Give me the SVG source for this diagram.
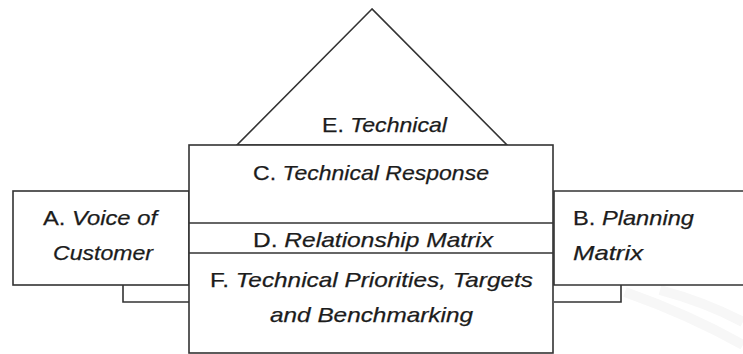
<svg xmlns="http://www.w3.org/2000/svg" width="743" height="354" viewBox="0 0 743 354">
  <style>
    .ln { fill: none; stroke: #333; stroke-width: 1.6; }
    .box { fill: #fff; stroke: #333; stroke-width: 1.6; }
    .lbl { font-family: "Liberation Sans", "Open Sans", sans-serif; font-size: 21px; fill: #1c1c1c; stroke: #1c1c1c; stroke-width: 0.25; }
    .it { font-style: italic; }
    .wm { fill: none; stroke: #f7f7f7; stroke-width: 10; }
  </style>
  <rect width="743" height="354" fill="#fff"/>

  <!-- faint background swooshes, lower right -->
  <path class="wm" d="M625,292 Q690,315 743,345"/>
  <path class="wm" d="M660,290 Q705,302 743,322"/>

  <!-- roof: technical correlations -->
  <g id="roof-E">
    <polygon class="box" points="372,9 237,145 507,145"/>
    <text class="lbl" x="322" y="132" textLength="125" lengthAdjust="spacingAndGlyphs">E. <tspan class="it">Technical</tspan></text>
  </g>

  <!-- left wing: voice of customer -->
  <g id="room-A">
    <rect class="box" x="13" y="191" width="176" height="94"/>
    <text class="lbl" x="43" y="225" textLength="114" lengthAdjust="spacingAndGlyphs">A. <tspan class="it">Voice of</tspan></text>
    <text class="lbl it" x="53" y="260" textLength="100" lengthAdjust="spacingAndGlyphs">Customer</text>
  </g>

  <!-- right wing: planning matrix -->
  <g id="room-B">
    <path class="box" d="M746,191 H554 V285 H746"/>
    <text class="lbl" x="573" y="225" textLength="121" lengthAdjust="spacingAndGlyphs">B. <tspan class="it">Planning</tspan></text>
    <text class="lbl it" x="573" y="260" textLength="70" lengthAdjust="spacingAndGlyphs">Matrix</text>
  </g>

  <!-- central body -->
  <g id="room-C">
    <rect class="box" x="189" y="145" width="364" height="208"/>
    <text class="lbl" x="253" y="180" textLength="236" lengthAdjust="spacingAndGlyphs">C. <tspan class="it">Technical Response</tspan></text>
  </g>

  <g id="room-D">
    <line class="ln" x1="189" y1="223" x2="553" y2="223"/>
    <text class="lbl" x="253" y="247" textLength="240" lengthAdjust="spacingAndGlyphs">D. <tspan class="it">Relationship Matrix</tspan></text>
  </g>

  <g id="room-F">
    <line class="ln" x1="189" y1="253" x2="553" y2="253"/>
    <text class="lbl" x="210" y="287" textLength="323" lengthAdjust="spacingAndGlyphs">F. <tspan class="it">Technical Priorities, Targets</tspan></text>
    <text class="lbl it" x="270" y="322" textLength="203" lengthAdjust="spacingAndGlyphs">and Benchmarking</text>
  </g>

  <!-- foundation links from the wings to the body -->
  <g id="connectors">
    <path class="ln" d="M123,285 V302 H189"/>
    <path class="ln" d="M621,285 V302 H554"/>
  </g>
</svg>
